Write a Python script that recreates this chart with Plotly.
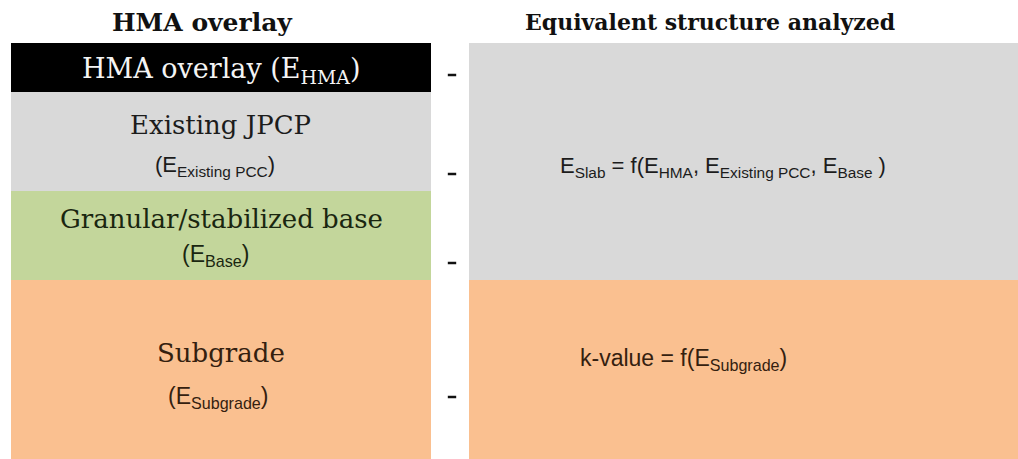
import numpy as np
import plotly.graph_objects as go

# Layer stack of the HMA overlay (relative thickness)
layers = ["HMA overlay", "Existing JPCP", "Granular/stabilized base", "Subgrade"]
layer_thickness = [49, 99, 89, 179]
layer_colors = ["#000000", "#D9D9D9", "#C3D69B", "#FAC090"]

# Equivalent structure used in the analysis
equiv_layers = ["Slab", "Subgrade"]
equiv_thickness = [237, 179]
equiv_colors = ["#D9D9D9", "#FAC090"]

# little "-" markers between the two columns (depths)
dash_depths = [32, 131, 220, 354]

SERIF = "DejaVu Serif"
SANS = "Liberation Sans"

W, H = 1018, 459
TOP = 43

fig = go.Figure()

# left column: one stacked bar segment per layer
for name, h, c in zip(layers, layer_thickness, layer_colors):
    fig.add_trace(go.Bar(x=[221], y=[h], width=[420], name=name,
                         marker=dict(color=c, line=dict(width=0)),
                         hoverinfo="name"))

# right column
for name, h, c in zip(equiv_layers, equiv_thickness, equiv_colors):
    fig.add_trace(go.Bar(x=[760], y=[h], width=[582], name=name,
                         marker=dict(color=c, line=dict(width=0)),
                         hoverinfo="name"))

fig.add_trace(go.Scatter(x=[452] * len(dash_depths), y=dash_depths, mode="markers",
                         marker=dict(symbol="line-ew", size=6, line=dict(width=2.5, color="#111")),
                         hoverinfo="skip"))

total = float(np.sum(layer_thickness))

def label(x, y, text, family, size, color, bold=False, yref="y"):
    if bold:
        text = f"<b>{text}</b>"
    fig.add_annotation(x=x, y=y, yref=yref, text=text, showarrow=False, xanchor="center",
                       yanchor="middle", font=dict(family=family, size=size, color=color))

# headings sit above the plot area
head_y = 1 + (TOP - 22) / (H - TOP)
label(202, head_y, "HMA overlay", SERIF, 25, "#111", bold=True, yref="paper")
label(710, head_y, "Equivalent structure analyzed", SERIF, 22, "#111", bold=True, yref="paper")

# left column labels
label(221, 27, "HMA overlay (E<sub>HMA</sub>)", SERIF, 27, "#f4f4f4")
label(220, 82, "Existing JPCP", SERIF, 26, "#1c1c1c")
label(215, 123, "(E<sub>Existing PCC</sub>)", SANS, 22, "#1c1c1c")
label(221, 176, "Granular/stabilized base", SERIF, 26, "#1a2610")
label(215, 212, "(E<sub>Base</sub>)", SANS, 23, "#1a2610")
label(221, 310, "Subgrade", SERIF, 26, "#34200f")
label(218, 354, "(E<sub>Subgrade</sub>)", SANS, 23, "#34200f")

# right column labels
label(723, 124, "E<sub>Slab</sub> = f(E<sub>HMA</sub>, E<sub>Existing PCC</sub>, E<sub>Base</sub> )", SANS, 22, "#1c1c1c")
label(683, 316, "k-value = f(E<sub>Subgrade</sub>)", SANS, 23, "#34200f")

fig.update_layout(
    width=W, height=H,
    barmode="stack",
    showlegend=False,
    margin=dict(l=0, r=0, t=TOP, b=0),
    paper_bgcolor="white",
    plot_bgcolor="white",
    xaxis=dict(range=[0, W], visible=False, fixedrange=True),
    yaxis=dict(range=[total, 0], visible=False, fixedrange=True),
)

# drop the default 8px body margin so the figure fills the window exactly
fig.write_html("out.html", config={"displayModeBar": False},
               post_script="document.body.style.margin='0';")
